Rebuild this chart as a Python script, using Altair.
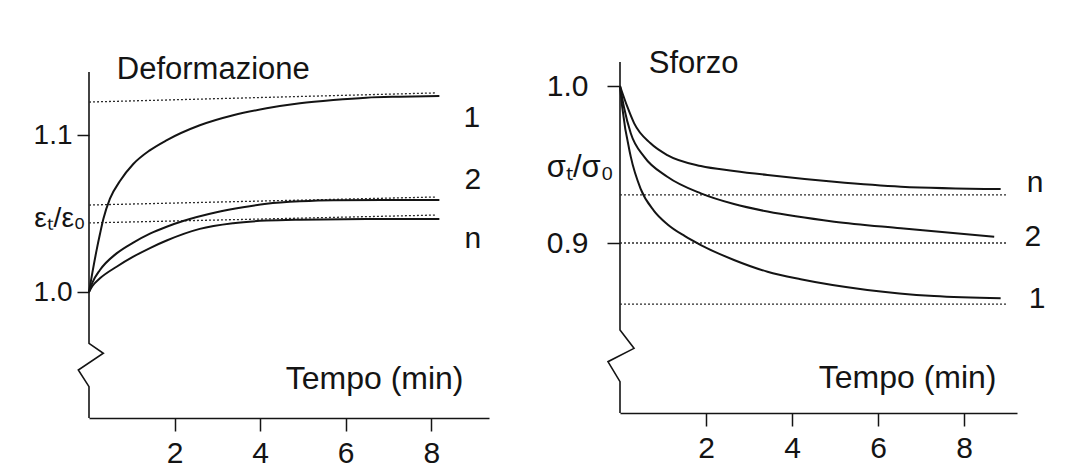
import altair as alt
import pandas as pd

# ---------------- data: left panel (Deformazione) ----------------
DEF_T1 = [0, 0.08, 0.18, 0.26, 0.335, 0.49, 0.72, 1.035, 1.42, 1.81, 2.59, 3.37, 4.15, 4.93, 5.71, 6.48, 7.26, 8.19]
DEF_V1 = [1.0, 1.0125, 1.027, 1.0374, 1.0465, 1.0595, 1.0705, 1.0815, 1.0902, 1.0966, 1.1062, 1.1126, 1.117, 1.1202, 1.1223, 1.1238, 1.1244, 1.1248]
DEF_T2 = [0, 0.08, 0.256, 0.645, 1.035, 1.425, 1.815, 2.2, 2.98, 3.6, 4.15, 4.93, 5.71, 8.19]
DEF_V2 = [1.0, 1.006, 1.014, 1.0246, 1.0315, 1.0372, 1.0416, 1.0452, 1.0508, 1.054, 1.0562, 1.0578, 1.0585, 1.0586]
DEF_TN = [0, 0.08, 0.256, 0.645, 1.035, 1.425, 1.815, 2.59, 3.37, 4.15, 4.93, 6.48, 8.19]
DEF_VN = [1.0, 1.0038, 1.0087, 1.0161, 1.0225, 1.028, 1.0328, 1.0402, 1.0438, 1.0455, 1.0461, 1.0465, 1.0465]
DEF_ASYM_T = [0, 8.1]
DEF_ASYM_1 = [1.121, 1.1268]
DEF_ASYM_2 = [1.0554, 1.0605]
DEF_ASYM_N = [1.044, 1.049]
DEF_LABELS = ["1", "2", "n"]
DEF_LABEL_T = [8.95, 8.97, 8.97]
DEF_LABEL_V = [1.1108, 1.0713, 1.0338]
DEF_AXIS_T = [0, 0, 0.335, -0.25, 0, 0]
DEF_AXIS_V = [1.1401, 0.9673, 0.961, 0.9503, 0.9397, 0.91975]

# ---------------- data: right panel (Sforzo) ----------------
SF_TN = [0, 0.17, 0.33, 0.71, 1.10, 1.88, 2.65, 3.43, 4.98, 6.53, 8.85]
SF_VN = [1.0, 0.9868, 0.9762, 0.9635, 0.956, 0.949, 0.9459, 0.9433, 0.939, 0.9359, 0.9344]
SF_T2 = [0, 0.09, 0.25, 0.56, 1.10, 1.88, 2.65, 3.43, 4.98, 6.53, 8.70]
SF_V2 = [1.0, 0.9868, 0.9699, 0.955, 0.9422, 0.9316, 0.9248, 0.92, 0.9136, 0.9094, 0.904]
SF_T1 = [0, 0.05, 0.25, 0.48, 0.79, 1.10, 1.5, 1.88, 2.65, 3.43, 4.2, 5.75, 7.3, 8.85]
SF_V1 = [1.0, 0.9868, 0.955, 0.9345, 0.9205, 0.912, 0.9045, 0.8987, 0.8892, 0.8817, 0.8769, 0.8701, 0.8662, 0.8648]
SF_ASYM_T = [0, 9.0]
SF_ASYM_N = [0.9306, 0.9306]
SF_ASYM_2 = [0.900, 0.900]
SF_ASYM_1 = [0.8611, 0.8611]
SF_LABELS = ["n", "2", "1"]
SF_LABEL_T = [9.65, 9.6, 9.7]
SF_LABEL_V = [0.9382, 0.9038, 0.8643]
SF_AXIS_T = [0, 0, 0.326, -0.28, 0, 0]
SF_AXIS_V = [1.0153, 0.8446, 0.8329, 0.8244, 0.8117, 0.79172]

X_TICKS = [2, 4, 6, 8]
FONT = "Liberation Sans"
INK = "#141414"


def curves_df(pairs):
    rows = []
    for name, ts, vs in pairs:
        for i, (t, v) in enumerate(zip(ts, vs)):
            rows.append({"curve": name, "i": i, "t": t, "v": v})
    return pd.DataFrame(rows)


def panel(curves, asym, asym_t, labels, lab_t, lab_v, axis_t, axis_v, title, title_t, title_v,
          xdom, ydom, yvals, width, height, ytitle, ytx, yty, ytfs, xtx, xty, ytick, ylpad, ylfs):
    xax = alt.Axis(values=X_TICKS, format="d", grid=False, tickSize=13, tickWidth=1.5,
                   tickColor=INK, domainColor=INK, domainWidth=1.6, labelFontSize=30,
                   labelPadding=7, labelColor=INK, labelFont=FONT, labelFlush=False,
                   title="Tempo (min)", titleFontSize=32, titleFontWeight="normal",
                   titleFont=FONT, titleColor=INK, titleX=xtx, titleY=xty,
                   titleAlign="right", titleBaseline="middle", titleAngle=0)
    yax = alt.Axis(values=yvals, format=".1f", grid=False, domain=False, tickSize=ytick,
                   tickWidth=1.5, tickColor=INK, labelFontSize=ylfs, labelPadding=ylpad,
                   labelColor=INK, labelFont=FONT, title=ytitle, titleFontSize=ytfs,
                   titleFontWeight="normal", titleFont=FONT, titleColor=INK, titleAngle=0,
                   titleX=ytx, titleY=yty, titleAlign="right", titleBaseline="middle")
    X = alt.X("t:Q", scale=alt.Scale(domain=xdom, nice=False, zero=False), axis=xax)
    Y = alt.Y("v:Q", scale=alt.Scale(domain=ydom, nice=False, zero=False), axis=yax)

    cdf = curves_df(curves)
    adf = pd.DataFrame([{"curve": n, "i": i, "t": t, "v": v}
                        for n, vs in asym for i, (t, v) in enumerate(zip(asym_t, vs))])
    ldf = pd.DataFrame({"lab": labels, "t": lab_t, "v": lab_v})
    axdf = pd.DataFrame({"i": list(range(len(axis_t))), "t": axis_t, "v": axis_v})
    tdf = pd.DataFrame({"lab": [title], "t": [title_t], "v": [title_v]})

    axis_line = alt.Chart(axdf).mark_line(color=INK, strokeWidth=1.6).encode(
        x=X, y=Y, order="i:Q")
    dotted = alt.Chart(adf).mark_line(color="#2a2a2a", strokeWidth=1.3, strokeDash=[2, 2]).encode(
        x=X, y=Y, detail="curve:N", order="i:Q")
    lines = alt.Chart(cdf).mark_line(color=INK, strokeWidth=2, interpolate="monotone").encode(
        x=X, y=Y, detail="curve:N", order="i:Q")
    labs = alt.Chart(ldf).mark_text(font=FONT, fontSize=30, color=INK, align="center",
                                    baseline="middle").encode(x=X, y=Y, text="lab:N")
    ttl = alt.Chart(tdf).mark_text(font=FONT, fontSize=31, color=INK, align="left",
                                   baseline="middle").encode(x=X, y=Y, text="lab:N")
    return alt.layer(axis_line, dotted, lines, labs, ttl).properties(width=width, height=height)


left = panel(
    curves=[("1", DEF_T1, DEF_V1), ("2", DEF_T2, DEF_V2), ("n", DEF_TN, DEF_VN)],
    asym=[("1", DEF_ASYM_1), ("2", DEF_ASYM_2), ("n", DEF_ASYM_N)], asym_t=DEF_ASYM_T,
    labels=DEF_LABELS, lab_t=DEF_LABEL_T, lab_v=DEF_LABEL_V,
    axis_t=DEF_AXIS_T, axis_v=DEF_AXIS_V,
    title="Deformazione", title_t=0.65, title_v=1.1414,
    xdom=[0, 9.35], ydom=[0.91975, 1.157325], yvals=[1.0, 1.1], width=400, height=373,
    ytitle="εₜ/ε₀", ytx=-4, yty=173, ytfs=28, xtx=374, xty=-40, ytick=12, ylpad=5, ylfs=28)

right = panel(
    curves=[("n", SF_TN, SF_VN), ("2", SF_T2, SF_V2), ("1", SF_T1, SF_V1)],
    asym=[("n", SF_ASYM_N), ("2", SF_ASYM_2), ("1", SF_ASYM_1)], asym_t=SF_ASYM_T,
    labels=SF_LABELS, lab_t=SF_LABEL_T, lab_v=SF_LABEL_V,
    axis_t=SF_AXIS_T, axis_v=SF_AXIS_V,
    title="Sforzo", title_t=0.67, title_v=1.014,
    xdom=[0, 9.23], ydom=[0.79172, 1.026115], yvals=[0.9, 1.0], width=397, height=368,
    ytitle="σₜ/σ₀", ytx=-7, yty=122, ytfs=31, xtx=376, xty=-36, ytick=13, ylpad=19, ylfs=30)

chart = alt.hconcat(left, right, spacing=57).properties(
    padding={"left": 25, "top": 37, "right": 5, "bottom": 5},
    background="white",
).configure_view(stroke=None)

chart.save("out.html", embed_options={"renderer": "svg", "actions": False})
